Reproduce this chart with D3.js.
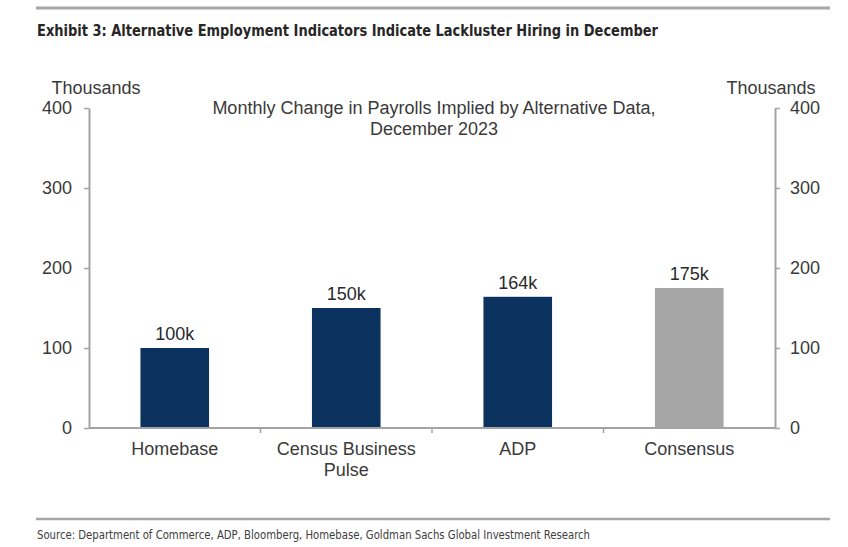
<!DOCTYPE html>
<html><head><meta charset="utf-8">
<script src="https://cdn.jsdelivr.net/npm/d3@7"></script>
<style>html,body{margin:0;padding:0;background:#fff;}</style>
</head><body>
<svg id="chart" width="848" height="547"></svg>
<script>
const categories = [["Homebase"], ["Census Business", "Pulse"], ["ADP"], ["Consensus"]];
const values = [100, 150, 164, 175];
const valueLabels = ["100k", "150k", "164k", "175k"];
const barColors = ["#0c335f", "#0c335f", "#0c335f", "#a6a6a6"];
const yTicks = [0, 100, 200, 300, 400];
const titleText = "Exhibit 3: Alternative Employment Indicators Indicate Lackluster Hiring in December";
const subtitleLines = ["Monthly Change in Payrolls Implied by Alternative Data,", "December 2023"];
const unitLabel = "Thousands";
const sourceText = "Source: Department of Commerce, ADP, Bloomberg, Homebase, Goldman Sachs Global Investment Research";

(function () {
const svg = d3.select("#chart");
const mL = 89, mR = 775, mT = 108, mB = 428;
const font = "'Liberation Sans', Arial, sans-serif";
const narrow = "'Liberation Sans Narrow', 'DejaVu Sans Condensed', 'Liberation Sans', Arial, sans-serif";
const axisColor = "#a3a3a3";
const textColor = "#3a3a3a";

svg.append("line").attr("x1", 36).attr("x2", 830).attr("y1", 8).attr("y2", 8)
  .attr("stroke", "#a6a6a6").attr("stroke-width", 3);
svg.append("line").attr("x1", 36).attr("x2", 830).attr("y1", 519).attr("y2", 519)
  .attr("stroke", "#a6a6a6").attr("stroke-width", 2.5);

svg.append("text").attr("x", 37).attr("y", 36).text(titleText)
  .attr("font-family", narrow).attr("font-weight", "bold").attr("font-size", 16)
  .attr("fill", "#262626").attr("textLength", 621).attr("lengthAdjust", "spacingAndGlyphs");

svg.append("text").attr("x", 37).attr("y", 539).text(sourceText)
  .attr("font-family", narrow).attr("font-size", 12)
  .attr("fill", "#404040").attr("textLength", 553).attr("lengthAdjust", "spacingAndGlyphs");

const x = d3.scaleBand().domain(d3.range(categories.length)).range([mL, mR]).paddingInner(0).paddingOuter(0);
const y = d3.scaleLinear().domain([0, 400]).range([mB, mT]);
const barW = x.bandwidth() * 0.4;

svg.selectAll("rect.bar").data(values).enter().append("rect")
  .attr("x", (d, i) => x(i) + (x.bandwidth() - barW) / 2)
  .attr("y", d => y(d))
  .attr("width", barW)
  .attr("height", d => y(0) - y(d))
  .attr("fill", (d, i) => barColors[i]);

svg.selectAll("text.val").data(values).enter().append("text")
  .attr("x", (d, i) => x(i) + x.bandwidth() / 2)
  .attr("y", d => y(d) - 8)
  .attr("text-anchor", "middle").attr("font-family", font).attr("font-size", 18)
  .attr("fill", "#2a2a2a").text((d, i) => valueLabels[i]);

const styleAxis = g => {
  g.select(".domain").attr("stroke", axisColor).attr("stroke-width", 2);
  g.selectAll(".tick line").attr("stroke", axisColor).attr("stroke-width", 1.5);
  g.selectAll(".tick text").attr("font-family", font).attr("font-size", 18).attr("fill", textColor);
};
const yl = svg.append("g").attr("transform", `translate(${mL},0)`)
  .call(d3.axisLeft(y).tickValues(yTicks).tickSize(5).tickSizeOuter(0).tickPadding(12));
styleAxis(yl);
const yr = svg.append("g").attr("transform", `translate(${mR},0)`)
  .call(d3.axisRight(y).tickValues(yTicks).tickSize(5).tickSizeOuter(0).tickPadding(10));
styleAxis(yr);

svg.append("line").attr("x1", mL).attr("x2", mR).attr("y1", mB).attr("y2", mB)
  .attr("stroke", axisColor).attr("stroke-width", 2);
svg.selectAll("line.sep").data(d3.range(1, categories.length)).enter().append("line")
  .attr("x1", i => x(i)).attr("x2", i => x(i))
  .attr("y1", mB).attr("y2", mB + 5)
  .attr("stroke", axisColor).attr("stroke-width", 1.5);

const catG = svg.selectAll("text.cat").data(categories).enter().append("text")
  .attr("x", (d, i) => x(i) + x.bandwidth() / 2)
  .attr("y", mB + 27)
  .attr("text-anchor", "middle").attr("font-family", font).attr("font-size", 18).attr("fill", textColor);
catG.each(function(lines, i) {
  const t = d3.select(this);
  lines.forEach((ln, k) => {
    t.append("tspan").attr("x", x(i) + x.bandwidth() / 2).attr("dy", k === 0 ? 0 : 21).text(ln);
  });
});

svg.append("text").attr("x", 96).attr("y", 94).attr("text-anchor", "middle")
  .attr("font-family", font).attr("font-size", 18).attr("fill", textColor).text(unitLabel);
svg.append("text").attr("x", 771).attr("y", 94).attr("text-anchor", "middle")
  .attr("font-family", font).attr("font-size", 18).attr("fill", textColor).text(unitLabel);

subtitleLines.forEach((ln, k) => {
  svg.append("text").attr("x", 434).attr("y", 114 + k * 21).attr("text-anchor", "middle")
    .attr("font-family", font).attr("font-size", 18).attr("fill", textColor).text(ln);
});
})();
</script>
</body></html>
